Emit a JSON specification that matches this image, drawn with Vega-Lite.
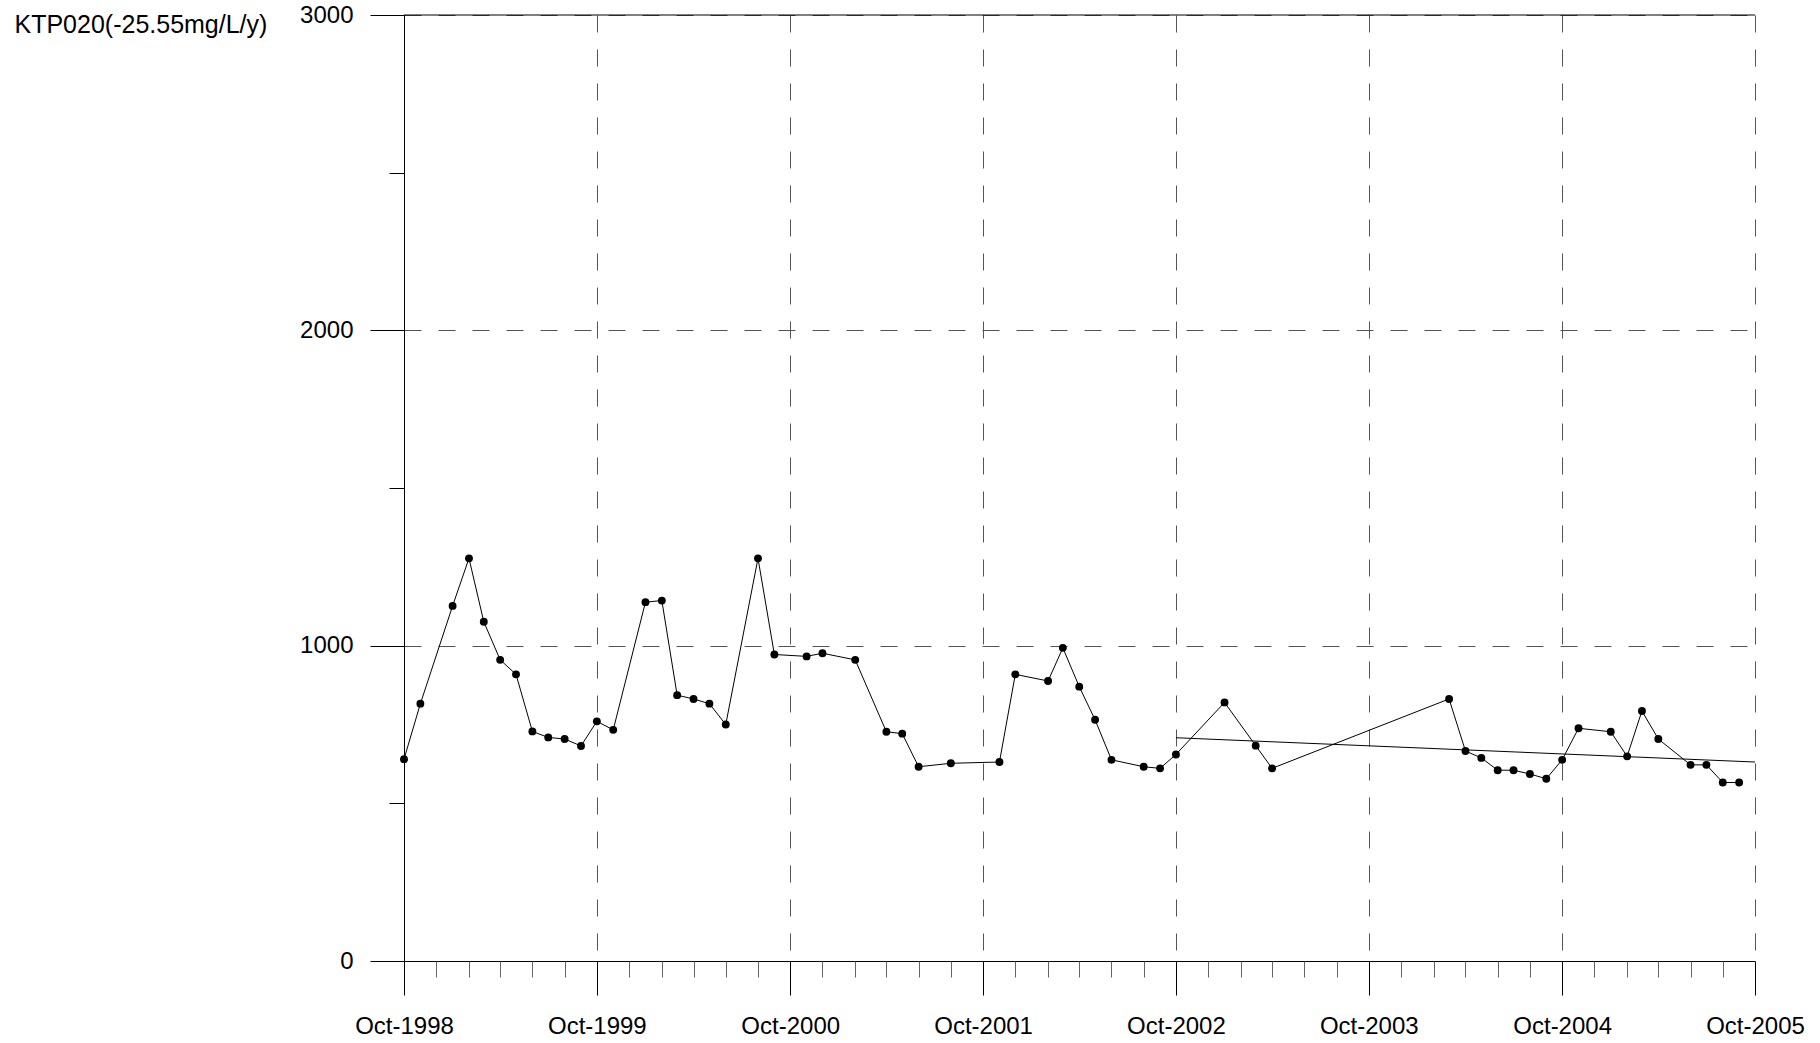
{
  "$schema": "https://vega.github.io/schema/vega-lite/v6.json",
  "autosize": {"type": "none"},
  "width": 1351,
  "height": 946,
  "padding": {"left": 404, "top": 15, "right": 65, "bottom": 82},
  "background": "white",
  "config": {
    "view": {"stroke": null},
    "axis": {
      "labelFont": "Liberation Sans",
      "labelFontSize": 24,
      "labelColor": "black",
      "titleFont": "Liberation Sans",
      "titleColor": "black",
      "labelFlush": false,
      "labelOverlap": false
    }
  },
  "datasets": {
    "obs": [
      {"date": "1998-10-01", "value": 640},
      {"date": "1998-11-01", "value": 816},
      {"date": "1999-01-01", "value": 1126},
      {"date": "1999-02-01", "value": 1277},
      {"date": "1999-03-01", "value": 1076},
      {"date": "1999-04-01", "value": 955},
      {"date": "1999-05-01", "value": 909},
      {"date": "1999-06-01", "value": 728},
      {"date": "1999-07-01", "value": 709},
      {"date": "1999-08-01", "value": 704},
      {"date": "1999-09-01", "value": 682},
      {"date": "1999-10-01", "value": 760},
      {"date": "1999-11-01", "value": 733},
      {"date": "2000-01-01", "value": 1138},
      {"date": "2000-02-01", "value": 1143},
      {"date": "2000-03-01", "value": 843},
      {"date": "2000-04-01", "value": 831},
      {"date": "2000-05-01", "value": 816},
      {"date": "2000-06-01", "value": 750},
      {"date": "2000-08-01", "value": 1277},
      {"date": "2000-09-01", "value": 972},
      {"date": "2000-11-01", "value": 966},
      {"date": "2000-12-01", "value": 976},
      {"date": "2001-02-01", "value": 955},
      {"date": "2001-04-01", "value": 727},
      {"date": "2001-05-01", "value": 721},
      {"date": "2001-06-01", "value": 616},
      {"date": "2001-08-01", "value": 627},
      {"date": "2001-11-01", "value": 631},
      {"date": "2001-12-01", "value": 909},
      {"date": "2002-02-01", "value": 888},
      {"date": "2002-03-01", "value": 993},
      {"date": "2002-04-01", "value": 870},
      {"date": "2002-05-01", "value": 765},
      {"date": "2002-06-01", "value": 638},
      {"date": "2002-08-01", "value": 616},
      {"date": "2002-09-01", "value": 611},
      {"date": "2002-10-01", "value": 655},
      {"date": "2003-01-01", "value": 820},
      {"date": "2003-03-01", "value": 683},
      {"date": "2003-04-01", "value": 611},
      {"date": "2004-03-01", "value": 831},
      {"date": "2004-04-01", "value": 666},
      {"date": "2004-05-01", "value": 644},
      {"date": "2004-06-01", "value": 605},
      {"date": "2004-07-01", "value": 605},
      {"date": "2004-08-01", "value": 593},
      {"date": "2004-09-01", "value": 578},
      {"date": "2004-10-01", "value": 638},
      {"date": "2004-11-01", "value": 738},
      {"date": "2005-01-01", "value": 727},
      {"date": "2005-02-01", "value": 649},
      {"date": "2005-03-01", "value": 793},
      {"date": "2005-04-01", "value": 704},
      {"date": "2005-06-01", "value": 622},
      {"date": "2005-07-01", "value": 622},
      {"date": "2005-08-01", "value": 566},
      {"date": "2005-09-01", "value": 566}
    ],
    "trend": [
      {"date": "2002-10-01", "value": 708},
      {"date": "2005-10-01", "value": 631}
    ],
    "frame": [
      {"value": 3000}
    ]
  },
  "resolve": {"axis": {"x": "independent", "y": "independent"}},
  "layer": [
    {
      "data": {"name": "obs"},
      "mark": {"type": "line", "color": "black", "strokeWidth": 1},
      "encoding": {
        "x": {
          "field": "date", "type": "temporal",
          "scale": {"type": "utc", "domain": [{"year": 1998, "month": 10, "date": 1, "utc": true}, {"year": 2005, "month": 10, "date": 1, "utc": true}], "nice": false},
          "axis": {
            "orient": "bottom",
            "title": null,
            "format": "%b-%Y",
            "values": [
              {"year": 1998, "month": 10, "date": 1, "utc": true},
              {"year": 1999, "month": 10, "date": 1, "utc": true},
              {"year": 2000, "month": 10, "date": 1, "utc": true},
              {"year": 2001, "month": 10, "date": 1, "utc": true},
              {"year": 2002, "month": 10, "date": 1, "utc": true},
              {"year": 2003, "month": 10, "date": 1, "utc": true},
              {"year": 2004, "month": 10, "date": 1, "utc": true},
              {"year": 2005, "month": 10, "date": 1, "utc": true}
            ],
            "tickSize": 34,
            "tickColor": "black",
            "tickWidth": 1,
            "domainColor": "black",
            "domainWidth": 1,
            "labelPadding": 19,
            "labelAlign": "center",
            "grid": true,
            "gridColor": "#555555",
            "gridDash": [17, 17],
            "gridWidth": 1
          }
        },
        "y": {
          "field": "value", "type": "quantitative",
          "scale": {"domain": [0, 3000], "nice": false, "zero": true},
          "axis": {
            "orient": "left",
            "title": "KTP020(-25.55mg/L/y)",
            "titleAngle": 0,
            "titleX": -390,
            "titleY": 17,
            "titleAlign": "left",
            "titleBaseline": "alphabetic",
            "titleFontSize": 25,
            "titleFontWeight": "normal",
            "values": [0, 1000, 2000, 3000],
            "format": "d",
            "tickSize": 34,
            "tickColor": "black",
            "domainColor": "black",
            "labelPadding": 17,
            "labelBaseline": "middle",
            "grid": true,
            "gridColor": "#555555",
            "gridDash": [17, 17],
            "gridWidth": 1
          }
        }
      }
    },
    {
      "data": {"name": "trend"},
      "mark": {"type": "line", "color": "black", "strokeWidth": 1},
      "encoding": {
        "x": {"field": "date", "type": "temporal", "axis": null},
        "y": {"field": "value", "type": "quantitative", "axis": null}
      }
    },
    {
      "data": {"name": "frame"},
      "mark": {"type": "rule", "color": "black", "strokeWidth": 1},
      "encoding": {
        "y": {"field": "value", "type": "quantitative", "axis": null}
      }
    },
    {
      "data": {"name": "obs"},
      "mark": {"type": "point", "filled": true, "color": "black", "opacity": 1, "size": 62},
      "encoding": {
        "x": {
          "field": "date", "type": "temporal",
          "axis": {
            "orient": "bottom",
            "title": null,
            "labels": false,
            "domain": false,
            "grid": false,
            "tickSize": 16,
            "tickColor": "#666666",
            "values": [
              {"year": 1998, "month": 12, "date": 1, "utc": true},
              {"year": 1999, "month": 2, "date": 1, "utc": true},
              {"year": 1999, "month": 4, "date": 1, "utc": true},
              {"year": 1999, "month": 6, "date": 1, "utc": true},
              {"year": 1999, "month": 8, "date": 1, "utc": true},
              {"year": 1999, "month": 12, "date": 1, "utc": true},
              {"year": 2000, "month": 2, "date": 1, "utc": true},
              {"year": 2000, "month": 4, "date": 1, "utc": true},
              {"year": 2000, "month": 6, "date": 1, "utc": true},
              {"year": 2000, "month": 8, "date": 1, "utc": true},
              {"year": 2000, "month": 12, "date": 1, "utc": true},
              {"year": 2001, "month": 2, "date": 1, "utc": true},
              {"year": 2001, "month": 4, "date": 1, "utc": true},
              {"year": 2001, "month": 6, "date": 1, "utc": true},
              {"year": 2001, "month": 8, "date": 1, "utc": true},
              {"year": 2001, "month": 12, "date": 1, "utc": true},
              {"year": 2002, "month": 2, "date": 1, "utc": true},
              {"year": 2002, "month": 4, "date": 1, "utc": true},
              {"year": 2002, "month": 6, "date": 1, "utc": true},
              {"year": 2002, "month": 8, "date": 1, "utc": true},
              {"year": 2002, "month": 12, "date": 1, "utc": true},
              {"year": 2003, "month": 2, "date": 1, "utc": true},
              {"year": 2003, "month": 4, "date": 1, "utc": true},
              {"year": 2003, "month": 6, "date": 1, "utc": true},
              {"year": 2003, "month": 8, "date": 1, "utc": true},
              {"year": 2003, "month": 12, "date": 1, "utc": true},
              {"year": 2004, "month": 2, "date": 1, "utc": true},
              {"year": 2004, "month": 4, "date": 1, "utc": true},
              {"year": 2004, "month": 6, "date": 1, "utc": true},
              {"year": 2004, "month": 8, "date": 1, "utc": true},
              {"year": 2004, "month": 12, "date": 1, "utc": true},
              {"year": 2005, "month": 2, "date": 1, "utc": true},
              {"year": 2005, "month": 4, "date": 1, "utc": true},
              {"year": 2005, "month": 6, "date": 1, "utc": true},
              {"year": 2005, "month": 8, "date": 1, "utc": true}
            ]
          }
        },
        "y": {
          "field": "value", "type": "quantitative",
          "axis": {
            "orient": "left",
            "title": null,
            "labels": false,
            "domain": false,
            "grid": false,
            "tickSize": 15,
            "tickColor": "black",
            "values": [500, 1500, 2500]
          }
        }
      }
    }
  ]
}
